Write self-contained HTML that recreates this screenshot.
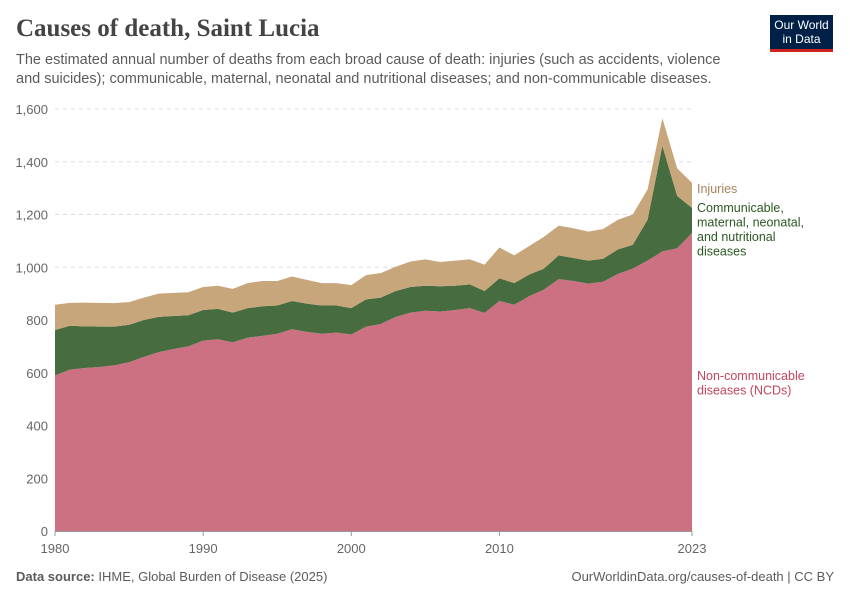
<!DOCTYPE html>
<html><head><meta charset="utf-8"><style>
body{margin:0;background:#fff;font-family:"Liberation Sans",sans-serif}
#wrap{position:relative;width:850px;height:600px;overflow:hidden}
</style></head><body>
<div id="wrap">
<div style="position:absolute;left:16px;top:15px;font-family:'Liberation Serif',serif;font-size:25px;font-weight:bold;color:#444">Causes of death, Saint Lucia</div>
<div style="position:absolute;left:16px;top:51px;width:720px;font-size:14.5px;line-height:19px;color:#5b5b5b">The estimated annual number of deaths from each broad cause of death: injuries (such as accidents, violence and suicides); communicable, maternal, neonatal and nutritional diseases; and non-communicable diseases.</div>
<div style="position:absolute;left:770px;top:15px;width:63px;height:37px;background:#002147;border-bottom:3px solid #ce261e;box-sizing:border-box;color:#fff;font-size:12px;line-height:14px;text-align:center;padding-top:3px">Our World<br>in Data</div>
<svg id="chart" width="850" height="600" style="position:absolute;left:0;top:0"></svg>
<div style="position:absolute;left:16px;top:569px;font-size:13px;color:#5b5b5b"><b>Data source:</b> IHME, Global Burden of Disease (2025)</div>
<div style="position:absolute;right:16px;top:569px;font-size:13px;color:#5b5b5b">OurWorldinData.org/causes-of-death | CC BY</div>
</div>
<script>
const years=[];for(let y=1980;y<=2023;y++)years.push(y);
const ncd=[590,612,618,622,628,640,660,678,690,700,722,727,715,733,740,748,765,755,748,752,745,775,785,812,828,835,832,838,845,827,872,858,890,915,955,948,938,945,975,995,1025,1060,1072,1130];
const communicable=[172,166,158,153,147,142,140,134,125,118,116,115,113,112,112,107,107,107,107,103,100,103,100,98,97,95,96,92,90,83,86,82,82,80,90,87,87,87,93,90,155,400,198,95];
const injuries=[96,87,90,90,89,86,85,88,88,87,87,88,90,95,96,93,93,90,85,85,87,92,93,92,97,100,92,95,95,100,117,105,108,120,113,113,110,113,112,115,115,105,105,95];
const yTicks=[0,200,400,600,800,1000,1200,1400,1600];
const yTickLabels=["0","200","400","600","800","1,000","1,200","1,400","1,600"];
const xTicks=[1980,1990,2000,2010,2023];
const NS="http://www.w3.org/2000/svg";
const svg=document.getElementById('chart');
const X0=55,X1=692,Y0=531,Y1=109;
const xs=y=>X0+(y-1980)/(2023-1980)*(X1-X0);
const ys=v=>Y0-v/1600*(Y0-Y1);
function mk(t,a){const e=document.createElementNS(NS,t);for(const k in a)e.setAttribute(k,a[k]);svg.appendChild(e);return e;}
yTicks.forEach((v,i)=>{
 if(v>0){const g=mk('line',{x1:X0,x2:X1,y1:ys(v),y2:ys(v),stroke:'#ddd','stroke-dasharray':'4,4'});
 
 }
 const t=mk('text',{x:48,y:ys(v)+5,'text-anchor':'end','font-size':13,fill:'#666','font-family':'Liberation Sans'});
 t.textContent=yTickLabels[i];
 
 
});
const series=[{d:ncd,c:'#cc7182',n:'area-ncd'},{d:communicable,c:'#466c40',n:'area-communicable'},{d:injuries,c:'#c8a67b',n:'area-injuries'}];
let base=years.map(()=>0);
series.forEach(s=>{
 const top=base.map((b,i)=>b+s.d[i]);
 let p='M'+years.map((y,i)=>xs(y)+','+ys(top[i])).join('L');
 for(let i=years.length-1;i>=0;i--)p+='L'+xs(years[i])+','+ys(base[i]);
 p+='Z';
 const e=mk('path',{d:p,fill:s.c});
 
 
 base=top;
});
mk('line',{x1:X0,x2:X1,y1:Y0+0.5,y2:Y0+0.5,stroke:'#999'});
xTicks.forEach(y=>{
 mk('line',{x1:xs(y),x2:xs(y),y1:Y0,y2:Y0+5,stroke:'#999'});
 const t=mk('text',{x:xs(y),y:553,'text-anchor':'middle','font-size':13,fill:'#666','font-family':'Liberation Sans'});
 t.textContent=y;
 
 
});
function lab(lines,y0,col,name){lines.forEach((l,i)=>{const t=mk('text',{x:697,y:y0+i*14.5,'font-size':12.5,fill:col,'font-family':'Liberation Sans'});t.textContent=l;
 
 });}
lab(['Injuries'],193,'#a8835a','legend-injuries');
lab(['Communicable,','maternal, neonatal,','and nutritional','diseases'],212,'#2c5823','legend-communicable');
lab(['Non-communicable','diseases (NCDs)'],380,'#c0465d','legend-ncd');
</script>
</body></html>
